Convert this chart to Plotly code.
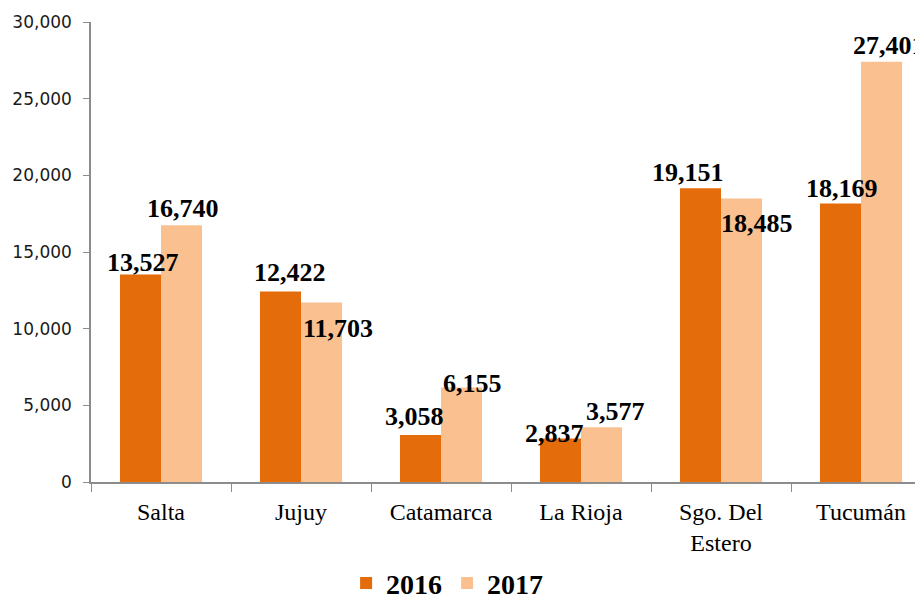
import plotly.graph_objects as go

categories = ["Salta", "Jujuy", "Catamarca", "La Rioja", "Sgo. Del<br>Estero", "Tucumán"]
values_2016 = [13527, 12422, 3058, 2837, 19151, 18169]
values_2017 = [16740, 11703, 6155, 3577, 18485, 27401]
y_ticks = [0, 5000, 10000, 15000, 20000, 25000, 30000]

# label offsets in px (x from category centre, y from bar top)
off_2016 = [(-18, 12), (-11, 19), (-27, 19), (-27, 5), (-33, 16), (-19, 15)]
off_2017 = [(22, 17), (37, -26), (31, 4), (34, 16), (36, -25), (28, 16)]

C16 = "#E46C0A"
C17 = "#FAC090"

fig = go.Figure()
fig.add_trace(go.Bar(x=categories, y=values_2016, name="<b>2016</b>", marker_color=C16,
                     marker_line_width=0))
fig.add_trace(go.Bar(x=categories, y=values_2017, name="<b>2017</b>", marker_color=C17,
                     marker_line_width=0))

lab_font = dict(family="Liberation Serif", size=26, color="#000000")
for vals, offs in ((values_2016, off_2016), (values_2017, off_2017)):
    for c, v, (dx, dy) in zip(categories, vals, offs):
        fig.add_annotation(x=c, y=v, text="<b>{:,}</b>".format(v), showarrow=False,
                           xanchor="center", yanchor="middle", xshift=dx, yshift=dy,
                           font=lab_font)

fig.update_layout(
    width=915, height=593,
    margin=dict(l=83, r=0, t=14, b=119),
    paper_bgcolor="#FFFFFF", plot_bgcolor="#FFFFFF",
    barmode="group", bargap=0.414, bargroupgap=0,
    showlegend=True,
    legend=dict(orientation="h", xref="paper", x=0.428, xanchor="center",
                yref="container", y=0.03, yanchor="middle",
                font=dict(family="Liberation Serif", size=28, color="#000000"),
                traceorder="normal", bgcolor="rgba(0,0,0,0)"),
    xaxis=dict(range=[-0.5, 5.5 - 8 / 140], showline=True, linecolor="#8C8C8C", linewidth=1.5,
               ticks="outside", tickson="boundaries", ticklen=8, tickcolor="#8C8C8C",
               ticklabelstandoff=7,
               tickfont=dict(family="Liberation Serif", size=24, color="#000000"),
               showgrid=False, zeroline=False),
    yaxis=dict(range=[0, 30000], tickvals=y_ticks, tickformat=",d", showline=True,
               linecolor="#8C8C8C", linewidth=1.5, ticks="outside", ticklen=6,
               tickcolor="#8C8C8C", showgrid=False, zeroline=False, ticklabelstandoff=8,
               tickfont=dict(family="DejaVu Sans", size=17, color="#1A1A1A")),
)
fig.write_html("out.html")
